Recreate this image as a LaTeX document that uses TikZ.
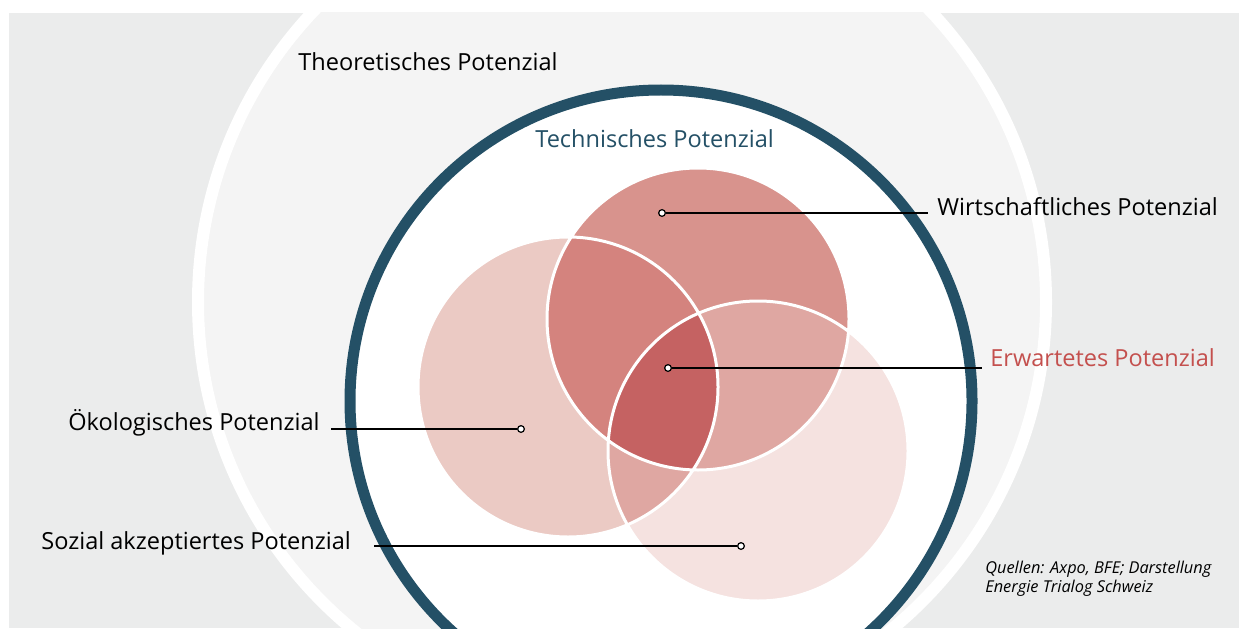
\documentclass[tikz,border=0pt]{standalone}
\usepackage{fontspec}
\setmainfont{Open Sans}
\usepackage{tikz}
\definecolor{bggray}{HTML}{EBECEC}
\definecolor{theogray}{HTML}{F4F4F4}
\definecolor{techblue}{HTML}{245066}
\definecolor{oekored}{HTML}{EBCAC4}
\definecolor{wirtred}{HTML}{D8938D}
\definecolor{sozred}{HTML}{F5E2E0}
\definecolor{wored}{HTML}{D4837E}
\definecolor{wsred}{HTML}{DFA7A2}
\definecolor{allred}{HTML}{C56262}
\definecolor{erwred}{HTML}{C4504E}

\begin{document}
\begin{tikzpicture}[x=0.02cm, y=-0.02cm,
labelnode/.style={anchor=base west, inner sep=0pt, font=\fontsize{13.4}{16}\selectfont},
srcnode/.style={anchor=base west, inner sep=0pt, font=\fontsize{9.3}{11}\selectfont\itshape},
dotnode/.style={circle, draw=black, fill=white, line width=0.7pt, inner sep=0pt, minimum size=3.8pt},
]
\useasboundingbox (0,0) rectangle (1239,628);
\fill[white] (0,0) rectangle (1239,628);
\fill[bggray] (9,13) rectangle (1239,628);

\begin{scope}
\clip (9,13) rectangle (1239,628);
\draw[white, fill=theogray, line width=0.24cm] (622,302) circle[radius=424];
\draw[techblue, fill=white, line width=0.22cm] (661,401) circle[radius=311];

\fill[oekored] (568,387) circle[radius=150];
\fill[wirtred] (698,319) circle[radius=151];
\fill[sozred] (758,451) circle[radius=150];
\begin{scope}
\clip (568,387) circle[radius=150];
\fill[wored] (698,319) circle[radius=151];
\fill[wsred] (758,451) circle[radius=150];
\end{scope}
\begin{scope}
\clip (698,319) circle[radius=151];
\fill[wsred] (758,451) circle[radius=150];
\end{scope}
\begin{scope}
\clip (568,387) circle[radius=150];
\clip (698,319) circle[radius=151];
\fill[allred] (758,451) circle[radius=150];
\end{scope}
\draw[white, line width=0.06cm] (568,387) circle[radius=150]
  (698,319) circle[radius=151] (758,451) circle[radius=150];
\end{scope}

\node[labelnode] (theo) at (298,71) {Theoretisches Potenzial};
\node[labelnode, text=techblue] (tech) at (535,148) {Technisches Potenzial};
\node[labelnode] (wirt) at (937,215) {Wirtschaftliches Potenzial};
\node[labelnode, text=erwred] (erw) at (990,366) {Erwartetes Potenzial};
\node[labelnode, anchor=base east] (oeko) at (320,430) {Ökologisches Potenzial};
\node[labelnode] (soz) at (41,549) {Sozial akzeptiertes Potenzial};
\node[srcnode] (src1) at (985,573) {Quellen: Axpo, BFE; Darstellung};
\node[srcnode] (src2) at (985,592) {Energie Trialog Schweiz};

\node[dotnode] (wirtdot) at (662,213) {};
\node[dotnode] (erwdot) at (668,368) {};
\node[dotnode] (oekodot) at (521,429) {};
\node[dotnode] (sozdot) at (741,546) {};
\coordinate (wirtend) at (928,213);
\coordinate (erwend) at (982,368);
\coordinate (oekoend) at (331,429);
\coordinate (sozend) at (374,546);

\draw[line width=0.7pt] (wirtdot) -- (wirtend);
\draw[line width=0.7pt] (erwdot) -- (erwend);
\draw[line width=0.7pt] (oekoend) -- (oekodot);
\draw[line width=0.7pt] (sozend) -- (sozdot);
\end{tikzpicture}
\end{document}
